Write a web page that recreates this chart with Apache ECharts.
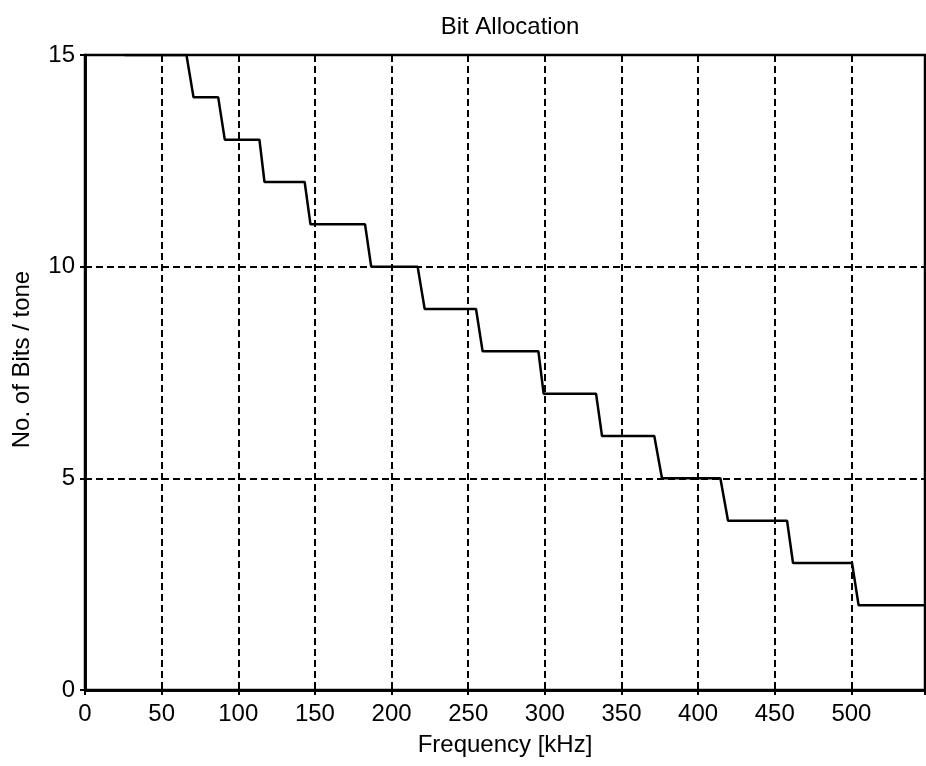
<!DOCTYPE html>
<html>
<head>
<meta charset="utf-8">
<script src="https://cdn.jsdelivr.net/npm/echarts@6/dist/echarts.min.js"></script>
<style>html,body{margin:0;padding:0;background:#fff;}#c{width:926px;height:766px;}</style>
</head>
<body>
<div id="c"></div>
<script>
// Breakpoints of the bit-allocation staircase (frequency in kHz, bits per tone)
const freqKHz = [25.9, 66.2, 70.8, 86.9, 91.2, 113.8, 117.1, 143.3, 147.1, 182.7, 186.7, 217.0, 221.6, 255.1, 259.4, 295.8, 299.2, 333.4, 337.3, 371.4, 376.4, 414.5, 419.5, 458.0, 461.9, 500.4, 504.7, 548];
const bitsPerTone = [15, 15, 14, 14, 13, 13, 12, 12, 11, 11, 10, 10, 9, 9, 8, 8, 7, 7, 6, 6, 5, 5, 4, 4, 3, 3, 2, 2];
const xTicks = [0, 50, 100, 150, 200, 250, 300, 350, 400, 450, 500];
const yTicks = [0, 5, 10, 15];
const titleText = 'Bit Allocation';
const xName = 'Frequency [kHz]';
const yName = 'No. of Bits / tone';

const FONT = '"Liberation Sans", Arial, sans-serif';
const chart = echarts.init(document.getElementById('c'));
const points = freqKHz.map((f, i) => [f, bitsPerTone[i]]);
const gridLine = { show: true, lineStyle: { color: '#000', width: 2, type: [7, 4] } };

chart.setOption({
  backgroundColor: '#fff',
  animation: false,
  title: {
    text: titleText, left: 505, top: 10, textAlign: 'center',
    textStyle: { fontFamily: FONT, fontSize: 24, fontWeight: 'normal', color: '#000' }
  },
  grid: { left: 85, right: 1, top: 55, bottom: 76, show: true, borderColor: '#000', borderWidth: 2.5, backgroundColor: 'transparent' },
  xAxis: [{
    type: 'value', min: 0, max: 548, interval: 50,
    name: xName, nameLocation: 'middle', nameGap: 43,
    nameTextStyle: { fontFamily: FONT, fontSize: 24, color: '#000' },
    axisLine: { show: true, onZero: false, lineStyle: { color: '#000', width: 2.5 } },
    axisTick: { show: true, inside: true, length: 5, lineStyle: { color: '#000', width: 2 } },
    axisLabel: {
      margin: 12, fontFamily: FONT, fontSize: 24, color: '#000', showMaxLabel: false,
      formatter: v => (xTicks.indexOf(v) >= 0 ? String(v) : '')
    },
    splitLine: gridLine
  }, {
    type: 'value', position: 'top', min: 0, max: 548, interval: 50,
    axisLine: { show: true, lineStyle: { color: '#000', width: 2.5 } },
    axisTick: { show: true, inside: true, length: 5, lineStyle: { color: '#000', width: 2 } },
    axisLabel: { show: false }, splitLine: { show: false }
  }],
  yAxis: [{
    type: 'value', min: 0, max: 15, interval: 5,
    name: yName, nameLocation: 'middle', nameGap: 51,
    nameTextStyle: { fontFamily: FONT, fontSize: 24, color: '#000', padding: [0, 0, 0, 26] },
    axisLine: { show: true, onZero: false, lineStyle: { color: '#000', width: 2.5 } },
    axisTick: { show: true, inside: true, length: 5, lineStyle: { color: '#000', width: 2 } },
    axisLabel: {
      margin: 10, fontFamily: FONT, fontSize: 24, color: '#000',
      formatter: v => (yTicks.indexOf(v) >= 0 ? String(v) : '')
    },
    splitLine: gridLine
  }, {
    type: 'value', position: 'right', min: 0, max: 15, interval: 5,
    axisLine: { show: true, lineStyle: { color: '#000', width: 2.5 } },
    axisTick: { show: true, inside: true, length: 5, lineStyle: { color: '#000', width: 2 } },
    axisLabel: { show: false }, splitLine: { show: false }
  }],
  series: [{
    type: 'line', data: points, showSymbol: false, symbol: 'none',
    xAxisIndex: 0, yAxisIndex: 0,
    lineStyle: { color: '#000', width: 2.5 }
  }]
});
</script>
</body>
</html>
